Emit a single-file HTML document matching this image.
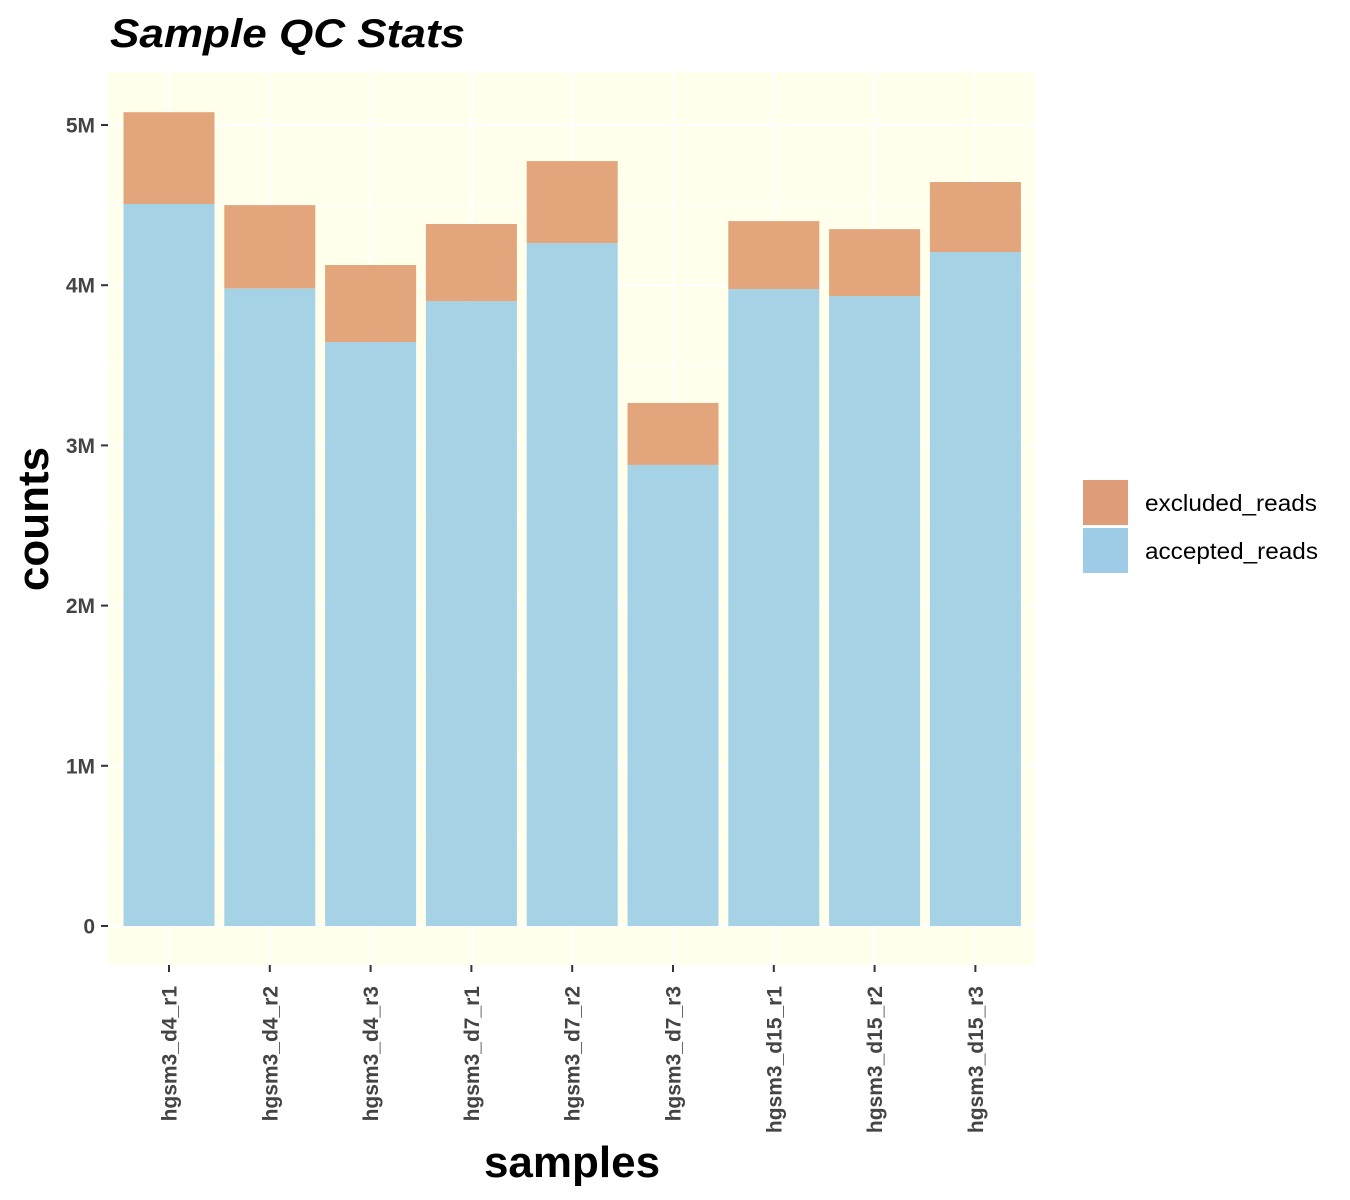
<!DOCTYPE html>
<html><head><meta charset="utf-8"><style>
body{margin:0;background:#fff;}
svg{display:block;font-family:"Liberation Sans",Arial,sans-serif;}
</style></head><body>
<svg id="chart" width="1350" height="1200">
<text x="110" y="47" font-size="40" font-weight="bold" font-style="italic" fill="#000" textLength="355" lengthAdjust="spacingAndGlyphs">Sample QC Stats</text>
<rect x="108" y="72" width="927" height="893" fill="#FFFFEC"/>
<g id="grid"></g>
<g id="bars"></g>
<g id="yaxis"></g>
<g id="xaxis"></g>
<text x="48" y="519" font-size="44" font-weight="bold" text-anchor="middle" transform="rotate(-90 48 519)">counts</text>
<text x="572" y="1177" font-size="44" font-weight="bold" text-anchor="middle">samples</text>
<g>
<rect x="1083" y="480" width="45" height="45" fill="#DE9C78"/>
<text x="1145" y="511" font-size="23" textLength="172" lengthAdjust="spacingAndGlyphs">excluded_reads</text>
<rect x="1083" y="528" width="45" height="45" fill="#9ECBE6"/>
<text x="1145" y="559" font-size="23" textLength="173" lengthAdjust="spacingAndGlyphs">accepted_reads</text>
</g>
</svg>
<script>
const categories=["hgsm3_d4_r1","hgsm3_d4_r2","hgsm3_d4_r3","hgsm3_d7_r1","hgsm3_d7_r2","hgsm3_d7_r3","hgsm3_d15_r1","hgsm3_d15_r2","hgsm3_d15_r3"];
const acceptedReads=[4.507,3.98,3.645,3.90,4.263,2.878,3.976,3.932,4.207];
const excludedReads=[0.573,0.52,0.481,0.482,0.512,0.387,0.424,0.418,0.437];
const yTicks=[0,1,2,3,4,5];
const yTickLabels=["0","1M","2M","3M","4M","5M"];
const NS="http://www.w3.org/2000/svg";
const y0=926, pxPerM=160.2, x0=169, step=100.8, bw=91;
function yScale(v){return y0-v*pxPerM;}
function xScale(i){return x0+i*step;}
function mk(tag,attrs,parent){const e=document.createElementNS(NS,tag);for(const k in attrs)e.setAttribute(k,attrs[k]);parent.appendChild(e);return e;}
const grid=document.getElementById('grid'),bars=document.getElementById('bars'),ya=document.getElementById('yaxis'),xa=document.getElementById('xaxis');
for(let t=-0.5;t<=5.5;t+=0.5){const y=yScale(t);if(y<72||y>965)continue;
const l=mk('line',{x1:108,x2:1035,y1:y,y2:y,stroke:'#fff','stroke-width':(t%1===0)?2.4:1.2},grid);
}
categories.forEach((c,i)=>{const x=xScale(i);
const l=mk('line',{x1:x,x2:x,y1:72,y2:965,stroke:'#fff','stroke-width':2.4},grid);

const a=mk('rect',{x:x-bw/2,y:yScale(acceptedReads[i]),width:bw,height:yScale(0)-yScale(acceptedReads[i]),fill:'#A6D2E6'},bars);

const tot=acceptedReads[i]+excludedReads[i];
const e=mk('rect',{x:x-bw/2,y:yScale(tot),width:bw,height:yScale(acceptedReads[i])-yScale(tot),fill:'#E3A67C'},bars);

const tk=mk('line',{x1:x,x2:x,y1:965,y2:972,stroke:'#333','stroke-width':2},xa);

const tx=mk('text',{x:x+7.5,y:986,'font-size':21,'font-weight':'bold',fill:'#444','text-anchor':'end',transform:`rotate(-90 ${x+7.5} 986)`},xa);
tx.textContent=c;
});
yTicks.forEach((t,i)=>{const y=yScale(t);
const tk=mk('line',{x1:101,x2:108,y1:y,y2:y,stroke:'#333','stroke-width':2},ya);

const tx=mk('text',{x:95,y:y+7.5,'font-size':21,'font-weight':'bold',fill:'#444','text-anchor':'end'},ya);
tx.textContent=yTickLabels[i];});
</script>
</body></html>
